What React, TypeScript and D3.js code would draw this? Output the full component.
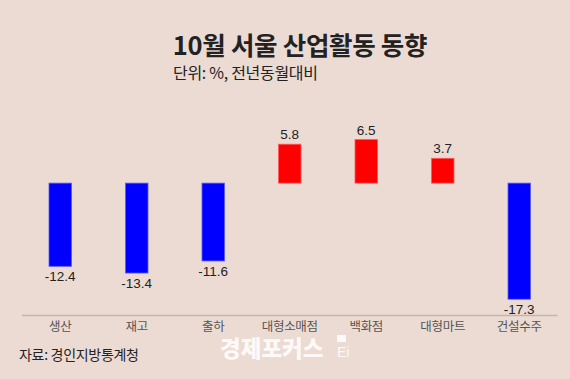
import React from "react";
import * as d3 from "d3";

const categories = ["생산", "재고", "출하", "대형소매점", "백화점", "대형마트", "건설수주"];
const values = [-12.4, -13.4, -11.6, 5.8, 6.5, 3.7, -17.3];
const valueLabels = ["-12.4", "-13.4", "-11.6", "5.8", "6.5", "3.7", "-17.3"];

const W = 570;
const H = 379;
const BG = "#ecdbd3";
const FONT = "'Liberation Sans', 'Noto Sans CJK KR', sans-serif";
const KFONT = "'Noto Sans CJK KR', sans-serif";

export default function App() {
  const x = d3.scaleBand<string>().domain(categories).range([22, 557.5]).paddingInner(0.706).paddingOuter(0.353);
  const y = d3.scaleLinear().domain([-17.3, 6.5]).range([299.2, 139.5]);
  const y0 = y(0);
  const axisY = 315.5;

  return (
    <svg width={W} height={H} style={{ position: "absolute", left: 0, top: 0, display: "block" }}>
      <rect x={0} y={0} width={W} height={H} fill={BG} />
      <text x={300} y={54.5} textAnchor="middle" fontFamily={KFONT} fontWeight={700} fontSize={25.5} fill="#222" letterSpacing={-0.3}>
        10월 서울 산업활동 동향
      </text>
      <text x={173} y={79} fontFamily={KFONT} fontSize={16} fill="#222" letterSpacing={-0.3}>
        단위: %, 전년동월대비
      </text>
      {categories.map((c, i) => {
        const v = values[i];
        const bx = x(c)!;
        const bw = x.bandwidth();
        const top = v >= 0 ? y(v) : y0;
        const bottom = v >= 0 ? y0 : y(v);
        const cx = bx + bw / 2;
        return (
          <g key={c}>
            <rect
              x={bx}
              y={top}
              width={bw}
              height={bottom - top}
              fill={v >= 0 ? "#ff0000" : "#0000ff"}
              stroke={v >= 0 ? "#ff5a5a" : "#5a5aff"}
              strokeWidth={0.8}
            />
            <text
              x={cx}
              y={v >= 0 ? top - 5 : bottom + 15}
              textAnchor="middle"
              fontFamily={FONT}
              fontSize={13.5}
              fill="#222"
            >
              {valueLabels[i]}
            </text>
            <text x={cx} y={axisY + 15.5} textAnchor="middle" fontFamily={KFONT} fontSize={12.5} fill="#555" letterSpacing={-0.3}>
              {c}
            </text>
          </g>
        );
      })}
      <line x1={22} x2={557.5} y1={axisY} y2={axisY} stroke="#c4b4ad" strokeWidth={1.5} />
      <text x={19} y={360} fontFamily={KFONT} fontSize={14} fill="#222" letterSpacing={-0.3}>
        자료: 경인지방통계청
      </text>
      <text x={220} y={357} fontFamily={KFONT} fontWeight={900} fontSize={22.5} fill="#ffffff" fillOpacity={0.85}>
        경제포커스
      </text>
      <rect x={337} y={335} width={9} height={7} fill="#ffffff" fillOpacity={0.85} />
      <text x={337} y={357} fontFamily={FONT} fontSize={14} fill="#ffffff" fillOpacity={0.85}>
        Ei
      </text>
    </svg>
  );
}
